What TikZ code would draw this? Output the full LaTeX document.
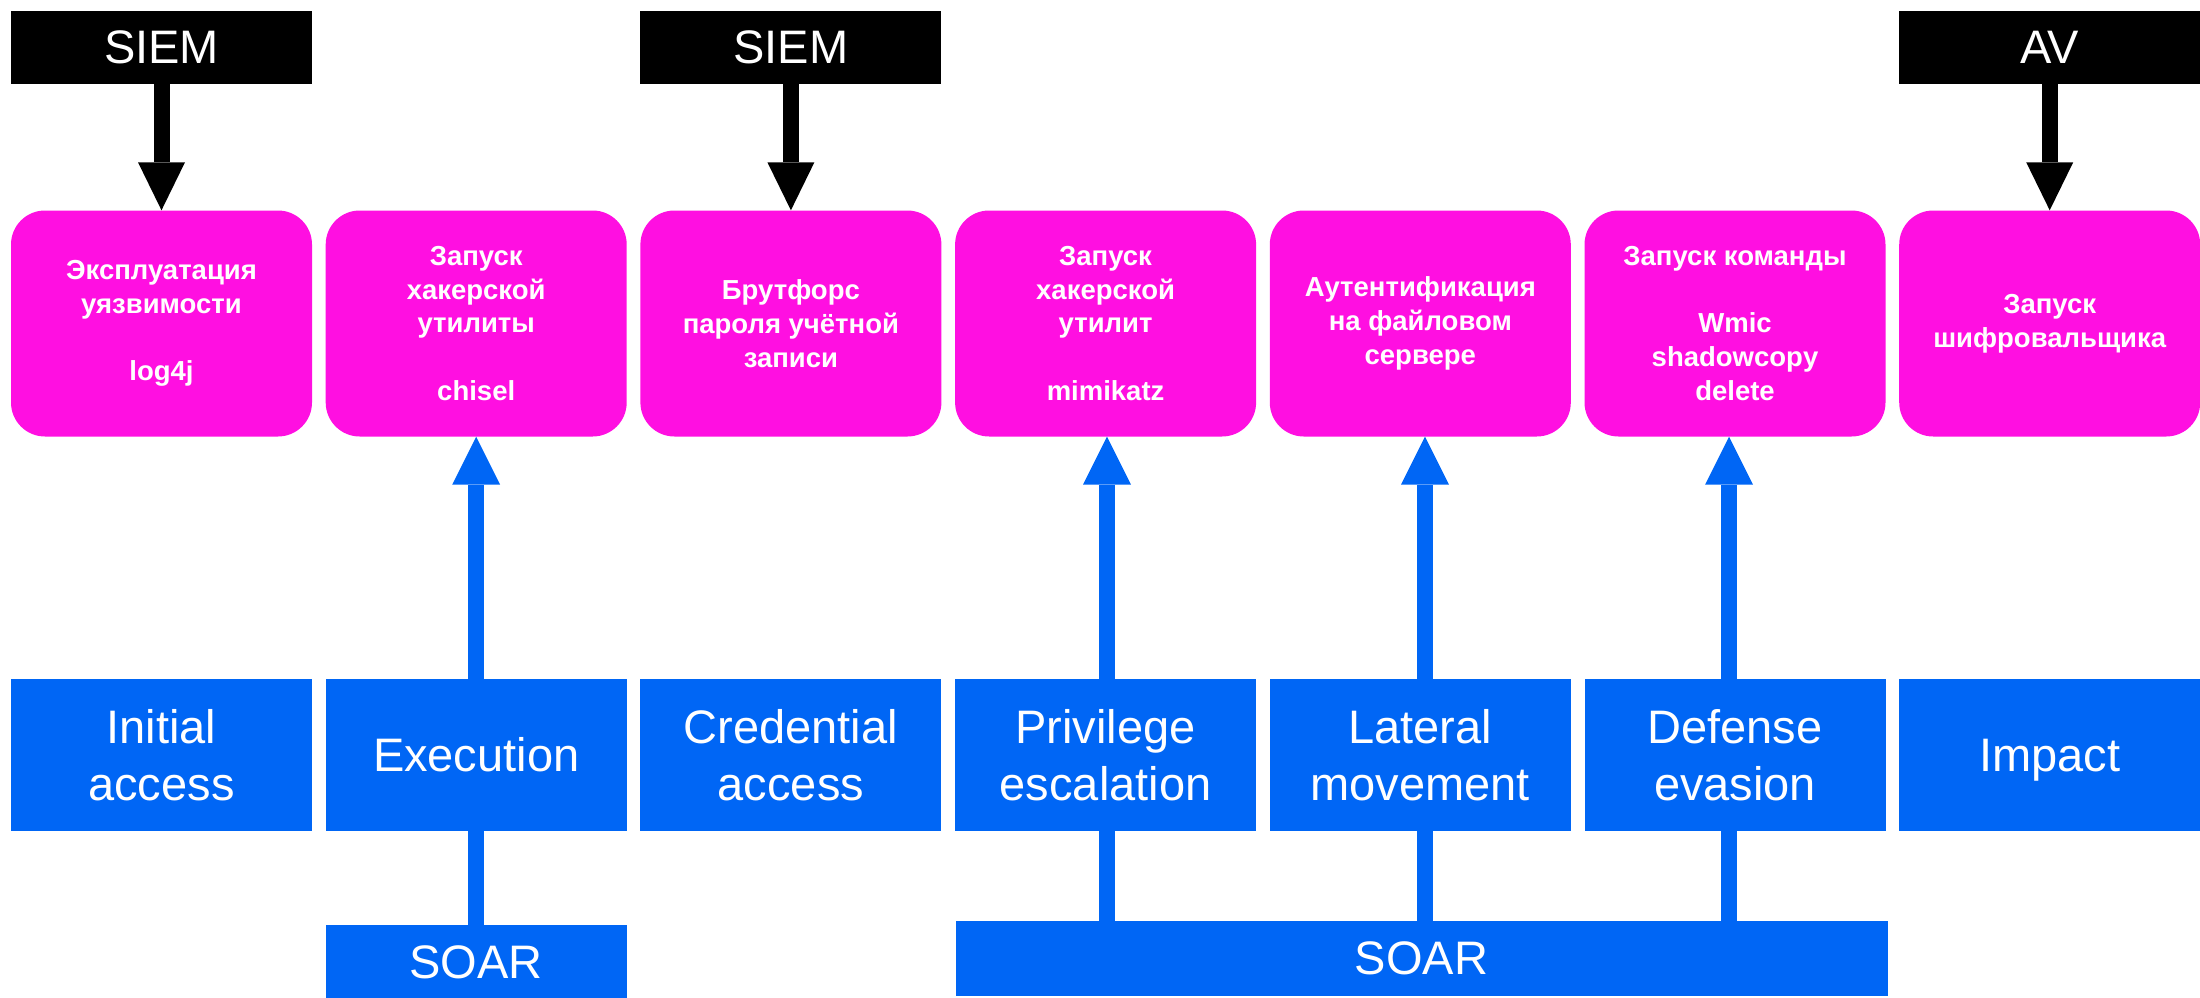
\documentclass[tikz,border=0pt]{standalone}
\usepackage{fontspec}
\setmainfont{Liberation Sans}
\usetikzlibrary{arrows.meta}
\definecolor{pinkc}{RGB}{255,15,225}
\definecolor{bluec}{RGB}{0,102,245}
\tikzset{
  blackbox/.style={fill=black,text=white,minimum width=301pt,minimum height=73pt,inner sep=0pt,font=\fontsize{47}{57}\selectfont},
  pinkbox/.style={fill=pinkc,text=white,rounded corners=34pt,minimum width=301pt,minimum height=226pt,inner sep=0pt,align=center,font=\bfseries\fontsize{27.5}{33.7}\selectfont},
  bluebox/.style={fill=bluec,text=white,minimum width=301pt,minimum height=152pt,inner sep=0pt,align=center,font=\fontsize{47}{57}\selectfont},
  soarbox/.style={fill=bluec,text=white,inner sep=0pt,font=\fontsize{47}{57}\selectfont},
  blackarrow/.style={draw=black,line width=16pt,-{Triangle[length=48pt,width=47pt,line width=0pt]}},
  bluearrow/.style={draw=bluec,line width=16pt,-{Triangle[length=48pt,width=48pt,line width=0pt]}},
  blueline/.style={draw=bluec,line width=16pt}
}
\begin{document}
\begin{tikzpicture}[x=1pt,y=-1pt]
\useasboundingbox (0,0) rectangle (2200,998);
% black boxes
\node[blackbox] (s1) at (161.5,47.5) {SIEM};
\node[blackbox] (s3) at (790.9,47.5) {SIEM};
\node[blackbox] (s7) at (2049.7,47.5) {AV};
% pink boxes
\node[pinkbox] (p1) at (161.5,323.5) {Эксплуатация\\уязвимости\\[33.7pt]log4j};
\node[pinkbox] (p2) at (476.2,323.5) {Запуск\\хакерской\\утилиты\\[33.7pt]chisel};
\node[pinkbox] (p3) at (790.9,323.5) {Брутфорс\\пароля учётной\\записи};
\node[pinkbox] (p4) at (1105.6,323.5) {Запуск\\хакерской\\утилит\\[33.7pt]mimikatz};
\node[pinkbox] (p5) at (1420.3,323.5) {Аутентификация\\на файловом\\сервере};
\node[pinkbox] (p6) at (1735,323.5) {Запуск команды\\[33.7pt]Wmic\\shadowcopy\\delete};
\node[pinkbox] (p7) at (2049.7,323.5) {Запуск\\шифровальщика};
% blue boxes
\node[bluebox] (b1) at (161.5,755) {Initial\\access};
\node[bluebox] (b2) at (476.2,755) {Execution};
\node[bluebox] (b3) at (790.9,755) {Credential\\access};
\node[bluebox] (b4) at (1105.6,755) {Privilege\\escalation};
\node[bluebox] (b5) at (1420.3,755) {Lateral\\movement};
\node[bluebox] (b6) at (1735,755) {Defense\\evasion};
\node[bluebox] (b7) at (2049.7,755) {\raisebox{0pt}[\height][0pt]{Impact}};
% SOAR boxes
\node[soarbox,minimum width=301pt,minimum height=74pt] (soarL) at (476.2,962) {SOAR};
\node[soarbox,minimum width=932pt,minimum height=75pt] (soarR) at (1421.5,958.5) {SOAR};
% black arrows
\draw[blackarrow] (s1.south) -- (p1.north);
\draw[blackarrow] (s3.south) -- (p3.north);
\draw[blackarrow] (s7.south) -- (p7.north);
% blue arrows
\draw[bluearrow] (b2.north) -- (p2.south);
\draw[blueline] (soarL.north -| b2.south) -- (b2.south);
\draw[bluearrow] ([xshift=1.4pt]b4.north) -- ([xshift=1.4pt]p4.south);
\draw[blueline] ([xshift=1.4pt]b4.south) -- ([xshift=1.4pt]b4.south |- soarR.north);
\draw[bluearrow] ([xshift=4.7pt]b5.north) -- ([xshift=4.7pt]p5.south);
\draw[blueline] ([xshift=4.7pt]b5.south) -- ([xshift=4.7pt]b5.south |- soarR.north);
\draw[bluearrow] ([xshift=-6pt]b6.north) -- ([xshift=-6pt]p6.south);
\draw[blueline] ([xshift=-6pt]b6.south) -- ([xshift=-6pt]b6.south |- soarR.north);
\end{tikzpicture}
\end{document}
